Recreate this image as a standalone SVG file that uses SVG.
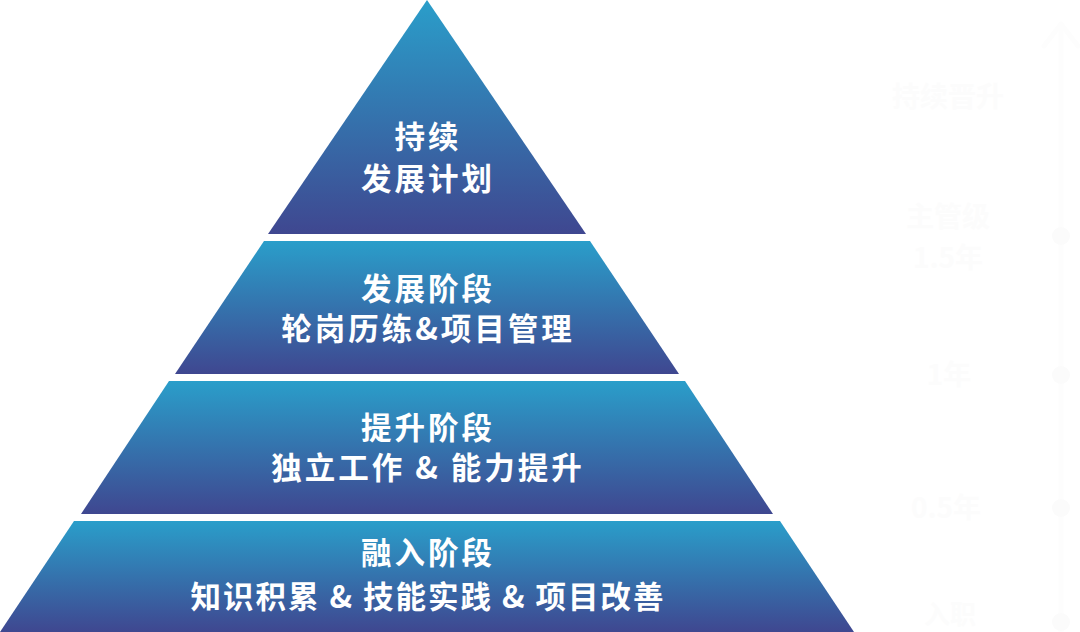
<svg xmlns="http://www.w3.org/2000/svg" width="1080" height="632" viewBox="0 0 1080 632">
  <defs>
    <linearGradient id="band" x1="0" y1="0" x2="0" y2="1">
      <stop offset="0" stop-color="#2a9eca"/>
      <stop offset="1" stop-color="#3f4790"/>
    </linearGradient>
    <style>
      .band { fill: url(#band); }
      .lbl { font-family: "Noto Sans CJK SC", "Noto Sans", sans-serif; font-weight: 700; font-size: 30.5px; fill: #ffffff; text-anchor: middle; letter-spacing: 3px; }
      .faint { font-family: "Noto Sans CJK SC", "Noto Sans", sans-serif; font-weight: 700; font-size: 28px; fill: #fcfcfc; text-anchor: middle; }
      .fline { stroke: #fdfdfd; stroke-width: 5; fill: none; stroke-linecap: round; stroke-linejoin: round; }
      .fdot { fill: #fbfbfb; }
    </style>
  </defs>
  <rect width="1080" height="632" fill="#ffffff"/>

  <g id="timeline">
    <line class="fline" x1="1061" y1="24" x2="1061" y2="632"/>
    <polyline class="fline" points="1044,46 1061,24 1078,46"/>
    <circle class="fdot" cx="1061" cy="236" r="9"/>
    <circle class="fdot" cx="1061" cy="375" r="9"/>
    <circle class="fdot" cx="1061" cy="508" r="9"/>
    <circle class="fdot" cx="1061" cy="622" r="9"/>
    <text class="faint" x="948" y="107">持续晋升</text>
    <text class="faint" x="948" y="227">主管级</text>
    <text class="faint" x="948" y="268">1.5年</text>
    <text class="faint" x="949" y="385">1年</text>
    <text class="faint" x="946" y="518">0.5年</text>
    <text class="faint" x="950" y="624" style="font-size:26px">入职</text>
  </g>

  <g id="level4">
    <polygon class="band" points="268,234 586,234 427,0"/>
    <text class="lbl" x="428" y="148">持续</text>
    <text class="lbl" x="428" y="190">发展计划</text>
  </g>

  <g id="level3">
    <polygon class="band" points="264,241 590,241 679,374 175,374"/>
    <text class="lbl" x="428" y="300">发展阶段</text>
    <text class="lbl" x="428" y="340">轮岗历练&amp;项目管理</text>
  </g>

  <g id="level2">
    <polygon class="band" points="169,381 685,381 773,514 81,514"/>
    <text class="lbl" x="428" y="439">提升阶段</text>
    <text class="lbl" x="428" y="479">独立工作 &amp; 能力提升</text>
  </g>

  <g id="level1">
    <polygon class="band" points="74,521 780,521 854,632 0,632"/>
    <text class="lbl" x="428" y="564">融入阶段</text>
    <text class="lbl" x="428" y="608" style="letter-spacing:2px">知识积累 &amp; 技能实践 &amp; 项目改善</text>
  </g>

  <g id="connectors"></g>
</svg>
